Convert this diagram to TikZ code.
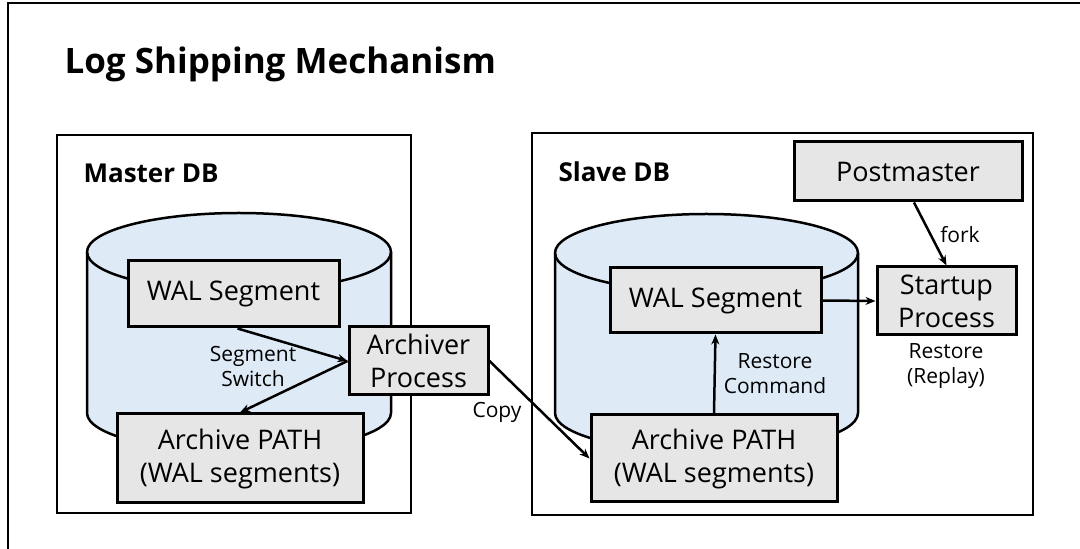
\documentclass[tikz,border=0pt]{standalone}
\usepackage{fontspec}
\setmainfont{Open Sans}
\usetikzlibrary{arrows.meta, positioning}
\definecolor{boxgray}{HTML}{E6E6E6}
\definecolor{dbblue}{HTML}{DEEBF7}

\begin{document}
\begin{tikzpicture}[x=1pt, y=1pt, font=\fontsize{27}{33}\selectfont,
    procbox/.style={draw, line width=3pt, fill=boxgray, align=center, inner sep=0pt},
    dbframe/.style={draw, line width=2.5pt, inner sep=0pt},
    cyl/.style={draw, line width=2.5pt, fill=dbblue},
    lbl/.style={font=\fontsize{21}{25}\selectfont, align=center},
    flow/.style={-{Stealth[length=10pt, width=8pt]}, line width=2.5pt}]
    \clip (0,0) rectangle (1080,549);
    \fill[white] (0,0) rectangle (1080,549);
    \draw[line width=2.5pt] (8,-10) -- (8,546) -- (1090,546);
    \node[anchor=base west, font=\fontsize{35}{40}\selectfont\bfseries] (title) at (61,475) {Log Shipping Mechanism};

    % database frames
    \node[dbframe, minimum width=354pt, minimum height=378pt] (master) at (234,225) {};
    \node[dbframe, minimum width=501pt, minimum height=382pt] (slave) at (782.5,225) {};
    \node[anchor=base west, font=\fontsize{26}{30}\selectfont\bfseries] (masterlbl) at (80,366) {Master DB};
    \node[anchor=base west, font=\fontsize{26}{30}\selectfont\bfseries] (slavelbl) at (555,367) {Slave DB};

    % storage cylinders
    \filldraw[cyl] (87,297) -- (87,136) arc[start angle=180, end angle=360, x radius=152, y radius=39]
        -- (391,297) arc[start angle=0, end angle=180, x radius=152, y radius=39] -- cycle;
    \draw[line width=2.5pt] (87,297) arc[start angle=180, end angle=360, x radius=152, y radius=39];
    \filldraw[cyl] (555,296) -- (555,136) arc[start angle=180, end angle=360, x radius=151.5, y radius=39]
        -- (858,296) arc[start angle=0, end angle=180, x radius=151.5, y radius=39] -- cycle;
    \draw[line width=2.5pt] (555,296) arc[start angle=180, end angle=360, x radius=151.5, y radius=39];

    % master side
    \node[procbox, minimum width=211pt, minimum height=66pt] (mwal) at (233.5,255) {WAL Segment};
    \node[procbox, minimum width=139pt, minimum height=68pt] (march) at (418.5,188) {Archiver\\Process};
    \node[procbox, minimum width=246pt, minimum height=89pt] (mpath) at (240,90.5) {Archive PATH\\(WAL segments)};

    % slave side
    \node[procbox, minimum width=211pt, minimum height=65pt] (swal) at (715.5,248.5) {WAL Segment};
    \node[procbox, minimum width=246pt, minimum height=87pt] (spath) at (714,90.5) {Archive PATH\\(WAL segments)};
    \node[procbox, minimum width=228pt, minimum height=59pt] (postm) at (908,377.5) {Postmaster};
    \node[procbox, minimum width=139pt, minimum height=68pt] (startp) at (946.5,248) {Startup\\Process};

    \draw[flow] ([xshift=4pt]mwal.south) -- (march.west);
    \draw[flow] (march.west) -- (mpath.north);
    \draw[flow] (march.east) -- (spath.west);
    \draw[flow] (spath.north) -- (swal.south);
    \draw[flow] (swal.east) -- (startp.west);
    \draw[flow] ([xshift=6pt]postm.south) -- (startp.north);

    \node[lbl] (switchlbl) at (253,182) {Segment\\Switch};
    \node[lbl] (copylbl) at (497,137) {Copy};
    \node[lbl] (forklbl) at (960,314) {fork};
    \node[lbl] (restorelbl) at (775,175) {Restore\\Command};
    \node[lbl] (replaylbl) at (946,183) {Restore\\(Replay)};
\end{tikzpicture}
\end{document}
